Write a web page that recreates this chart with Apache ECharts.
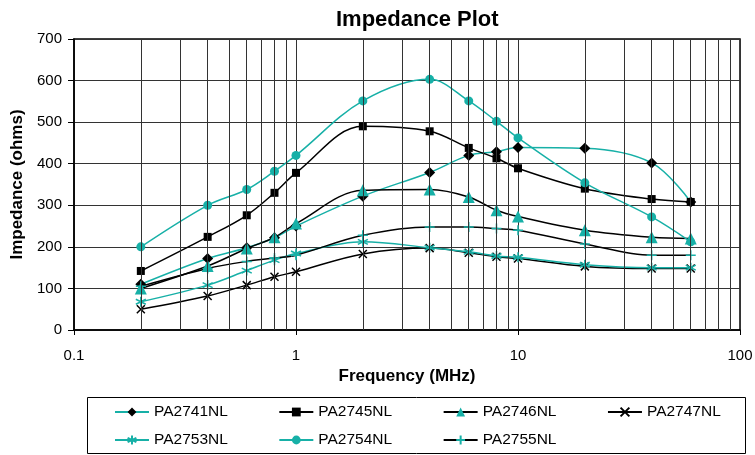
<!DOCTYPE html>
<html>
<head>
<meta charset="utf-8">
<script src="https://cdn.jsdelivr.net/npm/echarts@6/dist/echarts.min.js"></script>
<style>html,body{margin:0;padding:0;background:#fff;}#c{width:755px;height:455px;}</style>
</head>
<body>
<div id="c"></div>
<script>
var freqs = [0.2, 0.4, 0.6, 0.8, 1, 2, 4, 6, 8, 10, 20, 40, 60];
var pa2741 = [110, 172, 198, 222, 250, 322, 379, 420, 429, 439, 437, 402, 308];
var pa2745 = [142, 224, 276, 330, 378, 490, 478, 438, 413, 389, 340, 315, 308];
var pa2746 = [100, 154, 196, 223, 256, 336, 338, 320, 288, 273, 240, 223, 220];
var pa2747 = [50, 82, 108, 128, 140, 183, 197, 186, 176, 172, 153, 148, 148];
var pa2753 = [68, 108, 143, 168, 184, 212, 198, 188, 178, 175, 157, 150, 150];
var pa2754 = [200, 300, 338, 382, 420, 551, 603, 551, 502, 462, 354, 272, 212];
var pa2755 = [105, 148, 165, 173, 180, 228, 248, 248, 244, 240, 207, 180, 180];
var minorGridValues = [0.2,0.3,0.4,0.5,0.6,0.7,0.8,0.9,2,3,4,5,6,7,8,9,20,30,40,50,60,70,80,90];
var xTickLabels = {0.1: '0.1', 1: '1', 10: '10', 100: '100'};

var TEAL = '#17b0a7';
var BLACK = '#000000';
var FONT = 'Liberation Sans, Arial, sans-serif';

function pairs(vals) {
  return freqs.map(function (f, i) { return [f, vals[i]]; });
}
var X_PATH = 'path://M0,0L10,10M10,0L0,10';
var STAR_PATH = 'path://M5,0L5,10M0.7,2.5L9.3,7.5M9.3,2.5L0.7,7.5';
var PLUS_PATH = 'path://M5,0L5,10M0,5L10,5';

function mk(name, vals, lineColor, symbol, symColor, size, stroked) {
  return {
    name: name, type: 'line', data: pairs(vals), smooth: 0.35,
    symbol: symbol, symbolSize: size, showAllSymbol: true,
    lineStyle: { color: lineColor, width: 1.5 },
    itemStyle: stroked ? { color: symColor, borderColor: symColor, borderWidth: 1.5 } : { color: symColor, borderWidth: 0 },
    z: 3
  };
}

var series = [
  mk('PA2741NL', pa2741, TEAL, 'diamond', BLACK, 11, false),
  mk('PA2745NL', pa2745, BLACK, 'rect', BLACK, 8, false),
  mk('PA2746NL', pa2746, BLACK, 'triangle', TEAL, 12, false),
  mk('PA2747NL', pa2747, BLACK, X_PATH, BLACK, 8, true),
  mk('PA2753NL', pa2753, TEAL, STAR_PATH, TEAL, 10, true),
  mk('PA2754NL', pa2754, TEAL, 'circle', TEAL, 9, false),
  mk('PA2755NL', pa2755, BLACK, PLUS_PATH, TEAL, 10, true),
  {
    name: 'grid-minor', type: 'line', data: [[1, 0]], symbol: 'none', silent: true,
    lineStyle: { width: 0 }, z: 1,
    markLine: {
      silent: true, symbol: 'none', label: { show: false },
      lineStyle: { color: '#333', width: 1, type: 'solid' },
      emphasis: { disabled: true },
      data: minorGridValues.map(function (v) { return { xAxis: v }; })
    }
  }
];

var legendText = { fontSize: 15.5, fontFamily: FONT, color: '#000' };
var option = {
  animation: false,
  backgroundColor: '#fff',
  title: {
    text: 'Impedance Plot', left: 331, top: 4,
    textStyle: { fontSize: 22, fontWeight: 'bold', fontFamily: FONT, color: '#000' }
  },
  grid: { left: 74, right: 15, top: 39, bottom: 125, show: true, borderColor: '#000', borderWidth: 1.5,
    containLabel: false, outerBoundsMode: 'none' },
  xAxis: {
    type: 'log', logBase: 10, min: 0.1, max: 100,
    name: 'Frequency (MHz)', nameLocation: 'middle', nameGap: 37,
    nameTextStyle: { fontSize: 17, fontWeight: 'bold', fontFamily: FONT, color: '#000' },
    axisLine: { lineStyle: { color: '#000', width: 1.5 } },
    axisTick: { show: true, length: 5, lineStyle: { color: '#000' } },
    axisLabel: { fontSize: 15, fontFamily: FONT, color: '#000', margin: 18,
      formatter: function (v) { var k = Math.round(v * 10) / 10; return xTickLabels[k] !== undefined ? xTickLabels[k] : ''; } },
    splitLine: { show: true, lineStyle: { color: '#333', width: 1 } },
    minorTick: { show: false }, minorSplitLine: { show: false }
  },
  yAxis: {
    type: 'value', min: 0, max: 700, interval: 100,
    name: 'Impedance (ohms)', nameLocation: 'middle', nameGap: 45, nameRotate: 90,
    nameTextStyle: { fontSize: 17, fontWeight: 'bold', fontFamily: FONT, color: '#000' },
    axisLine: { show: true, lineStyle: { color: '#000', width: 1.5 } },
    axisTick: { show: true, length: 6, lineStyle: { color: '#000' } },
    axisLabel: { fontSize: 15, fontFamily: FONT, color: '#000', margin: 12 },
    splitLine: { show: true, lineStyle: { color: '#333', width: 1 } }
  },
  legend: [
    { data: ['PA2741NL', 'PA2745NL', 'PA2746NL', 'PA2747NL'], left: 114, top: 404, padding: 0,
      itemWidth: 34, itemHeight: 11, itemGap: 50.5, selectedMode: false, textStyle: legendText },
    { data: ['PA2753NL', 'PA2754NL', 'PA2755NL'], left: 114, top: 432, padding: 0,
      itemWidth: 34, itemHeight: 11, itemGap: 50.5, selectedMode: false, textStyle: legendText }
  ],
  graphic: [
    { type: 'rect', shape: { x: 87.5, y: 397.5, width: 658, height: 56 },
      style: { fill: 'none', stroke: '#000', lineWidth: 1 }, silent: true }
  ],
  series: series
};
var chart = echarts.init(document.getElementById('c'));
chart.setOption(option);
</script>
</body>
</html>
